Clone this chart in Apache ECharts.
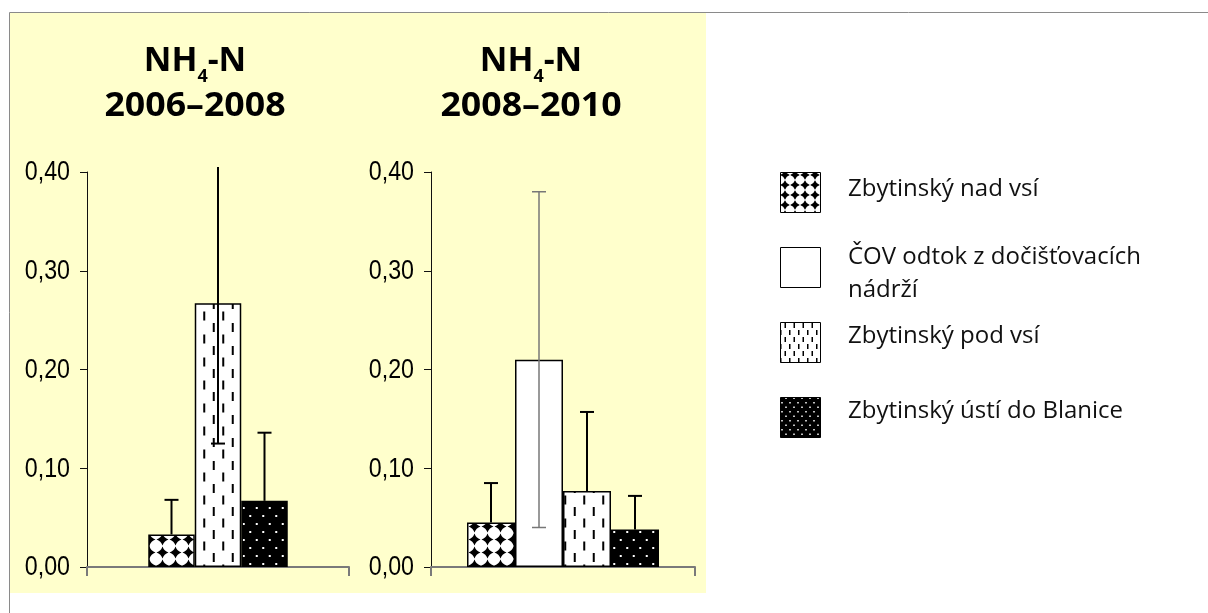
<!DOCTYPE html>
<html>
<head>
<meta charset="utf-8">
<script src="https://cdn.jsdelivr.net/npm/echarts@6/dist/echarts.min.js"></script>
<style>
  html, body { margin: 0; padding: 0; background: #ffffff; }
  #chart { width: 1208px; height: 613px; }
</style>
</head>
<body>
<div id="chart"></div>
<script>
// NH4-N mean concentrations with standard deviations, Zbytinský potok stations
const stations = ['Zbytinský nad vsí', 'ČOV odtok z dočišťovacích nádrží', 'Zbytinský pod vsí', 'Zbytinský ústí do Blanice'];
const periods = ['2006–2008', '2008–2010'];

// 2006–2008 (no samples from the treatment plant outflow)
const mean2006 = [0.033, null, 0.267, 0.067];
const errPlus2006 = [0.035, null, 0.142, 0.069];
const errMinus2006 = [null, null, 0.142, null];

// 2008–2010
const mean2008 = [0.045, 0.210, 0.077, 0.038];
const errPlus2008 = [0.040, 0.170, 0.080, 0.034];
const errMinus2008 = [null, 0.170, null, null];

const yTickValues = [0, 0.1, 0.2, 0.3, 0.4];
const yTickLabels = ['0,00', '0,10', '0,20', '0,30', '0,40'];

// ---- fill patterns -------------------------------------------------------
function makeTile(w, h, draw) {
  const c = document.createElement('canvas');
  c.width = w; c.height = h;
  draw(c.getContext('2d'), w, h);
  return c;
}
function diamondTile(t, k) {
  return makeTile(t, t, (g) => {
    g.fillStyle = '#fff'; g.fillRect(0, 0, t, t);
    g.fillStyle = '#000';
    const c = t / 2, r = t * k;
    g.beginPath();
    g.moveTo(c, c - r);
    g.quadraticCurveTo(c + r * 0.25, c - r * 0.25, c + r, c);
    g.quadraticCurveTo(c + r * 0.25, c + r * 0.25, c, c + r);
    g.quadraticCurveTo(c - r * 0.25, c + r * 0.25, c - r, c);
    g.quadraticCurveTo(c - r * 0.25, c - r * 0.25, c, c - r);
    g.fill();
  });
}
function dashTile(w, h, len, lw) {
  return makeTile(w, h, (g) => {
    g.fillStyle = '#fff'; g.fillRect(0, 0, w, h);
    g.fillStyle = '#000';
    g.fillRect(w * 0.25 - lw / 2, 1, lw, len);
    g.fillRect(w * 0.75 - lw / 2, h / 2 + 1, lw, len);
  });
}
function dotTile(w, h, s) {
  return makeTile(w, h, (g) => {
    g.fillStyle = '#000'; g.fillRect(0, 0, w, h);
    g.fillStyle = '#fff';
    g.fillRect(w * 0.25 - s / 2, h * 0.25 - s / 2, s, s);
    g.fillRect(w * 0.75 - s / 2, h * 0.75 - s / 2, s, s);
  });
}
const pat = (img) => ({ image: img, repeat: 'repeat' });

const barFills = [
  pat(diamondTile(13, 0.46)),
  '#ffffff',
  pat(dashTile(19, 23, 9, 2)),
  pat(dotTile(13, 16, 2))
];
const legendFills = [
  pat(diamondTile(10, 0.48)),
  '#ffffff',
  pat(dashTile(9, 14, 5, 1.5)),
  pat(dotTile(8, 9, 1.5))
];

// ---- layout ---------------------------------------------------------------
const grids = [
  { left: 87, top: 172, width: 262, height: 395 },
  { left: 431, top: 172, width: 264, height: 395 }
];
const barWidths = [46.5, 48];
const titleCenters = [195, 531];
const labelGap = 17;

const periodData = [
  { mean: mean2006, plus: errPlus2006, minus: errMinus2006 },
  { mean: mean2008, plus: errPlus2008, minus: errMinus2008 }
];

const xAxes = [], yAxes = [], series = [];

periodData.forEach((pd, g) => {
  xAxes.push({
    gridIndex: g, type: 'category', data: [periods[g]],
    axisLine: { lineStyle: { color: '#7a7a7a', width: 2 } },
    axisTick: { show: true, length: 9, lineStyle: { color: '#7a7a7a', width: 2 } },
    axisLabel: { show: false }, splitLine: { show: false }
  });
  yAxes.push({
    gridIndex: g, type: 'value', min: yTickValues[0], max: yTickValues[yTickValues.length - 1], interval: 0.1,
    axisLine: { show: true, lineStyle: { color: '#111', width: 1 } },
    axisTick: { show: true, length: 7, lineStyle: { color: '#111', width: 1 } },
    splitLine: { show: false },
    // tick labels are drawn condensed as graphic text below
    axisLabel: { show: false }
  });

  const present = [];
  stations.forEach((name, i) => {
    if (pd.mean[i] == null) return;
    present.push(i);
    series.push({
      type: 'bar', name, xAxisIndex: g, yAxisIndex: g,
      data: [pd.mean[i]], barWidth: barWidths[g], barGap: '0%',
      itemStyle: { color: barFills[i], borderColor: '#000', borderWidth: 1.5 },
      silent: true, z: 2
    });
  });

  // error bars on top of the bars
  const n = present.length, bw = barWidths[g];
  series.push({
    type: 'custom', xAxisIndex: g, yAxisIndex: g, silent: true, z: 5, clip: false,
    data: present.map((i, slot) => [0, pd.mean[i], pd.plus[i], pd.minus[i] == null ? '-' : pd.minus[i], slot, i]),
    renderItem: (params, api) => {
      const slot = api.value(4), station = api.value(5);
      const mean = api.value(1), plus = api.value(2), minus = api.value(3);
      const cx = api.coord([0, 0])[0] + (slot - (n - 1) / 2) * bw;
      const yMax = yTickValues[yTickValues.length - 1];
      const topEdge = params.coordSys.y - 5;
      const hiVal = mean + plus;
      const yHi = hiVal > yMax ? topEdge : api.coord([0, hiVal])[1];
      const yLo = isNaN(minus) ? api.coord([0, mean])[1] : api.coord([0, mean - minus])[1];
      const thin = station === 1;
      const st = { stroke: thin ? '#777' : '#000', lineWidth: thin ? 1.5 : 2 };
      const half = 7;
      const ch = [{ type: 'line', shape: { x1: cx, y1: yLo, x2: cx, y2: yHi }, style: st }];
      if (hiVal <= yMax) ch.push({ type: 'line', shape: { x1: cx - half, y1: yHi, x2: cx + half, y2: yHi }, style: st });
      if (!isNaN(minus)) ch.push({ type: 'line', shape: { x1: cx - half, y1: yLo, x2: cx + half, y2: yLo }, style: st });
      return { type: 'group', children: ch };
    }
  });
});

// ---- decoration, titles and legend -----------------------------------------
const graphic = [
  { type: 'rect', z: -10, silent: true, shape: { x: 10, y: 13, width: 696, height: 580 }, style: { fill: '#ffffcc' } },
  { type: 'polyline', z: -9, silent: true, shape: { points: [[9.5, 613], [9.5, 12.5], [1208, 12.5]] }, style: { stroke: '#8a8a8a', lineWidth: 1, fill: null } }
];

const titleFont = '"Open Sans", "DejaVu Sans", sans-serif';
periods.forEach((p, g) => {
  graphic.push({
    type: 'text', silent: true, x: titleCenters[g], y: 61,
    style: {
      text: '{a|NH}{s|4}{a|-N}', align: 'center', verticalAlign: 'middle',
      rich: {
        a: { fontSize: 34, fontWeight: 'bold', fontFamily: titleFont, fill: '#000', lineHeight: 40 },
        s: { fontSize: 18, fontWeight: 'bold', fontFamily: titleFont, fill: '#000', lineHeight: 18, padding: [32, 0, 0, 0] }
      }
    }
  });
  graphic.push({
    type: 'text', silent: true, x: titleCenters[g], y: 106, scaleX: 1.05,
    style: { text: p, align: 'center', verticalAlign: 'middle', fontSize: 34, fontWeight: 'bold', fontFamily: titleFont, fill: '#000' }
  });
});

const legendIconTop = [172, 247, 322, 397];
const legendTextMid = [189, 274, 336, 411];
stations.forEach((name, i) => {
  graphic.push({
    type: 'rect', silent: true, shape: { x: 780.5, y: legendIconTop[i] + 0.5, width: 40, height: 40 },
    style: { fill: legendFills[i], stroke: '#000', lineWidth: 1 }
  });
  graphic.push({
    type: 'text', silent: true, x: 848, y: legendTextMid[i],
    style: {
      text: name.replace(' nádrží', '\nnádrží'), verticalAlign: 'middle', align: 'left',
      fontSize: 24, fontFamily: '"Open Sans", sans-serif', fill: '#111', lineHeight: 33
    }
  });
});

const chart = echarts.init(document.getElementById('chart'), null, { renderer: 'canvas' });
chart.setOption({
  animation: false,
  backgroundColor: '#ffffff',
  grid: grids.map(g => Object.assign({ containLabel: false }, g)),
  xAxis: xAxes,
  yAxis: yAxes,
  series,
  graphic
});

// condensed value-axis labels, placed through each axis scale
periods.forEach((p, g) => {
  yTickValues.forEach((v, k) => {
    const y = chart.convertToPixel({ yAxisIndex: g }, v);
    graphic.push({
      type: 'text', silent: true, x: grids[g].left - labelGap, y: y + 1, scaleX: 0.86,
      style: {
        text: yTickLabels[k], align: 'right', verticalAlign: 'middle',
        fontSize: 27, fontFamily: '"Liberation Sans", Arial, sans-serif', fill: '#000'
      }
    });
  });
});
chart.setOption({ graphic });
</script>
</body>
</html>
